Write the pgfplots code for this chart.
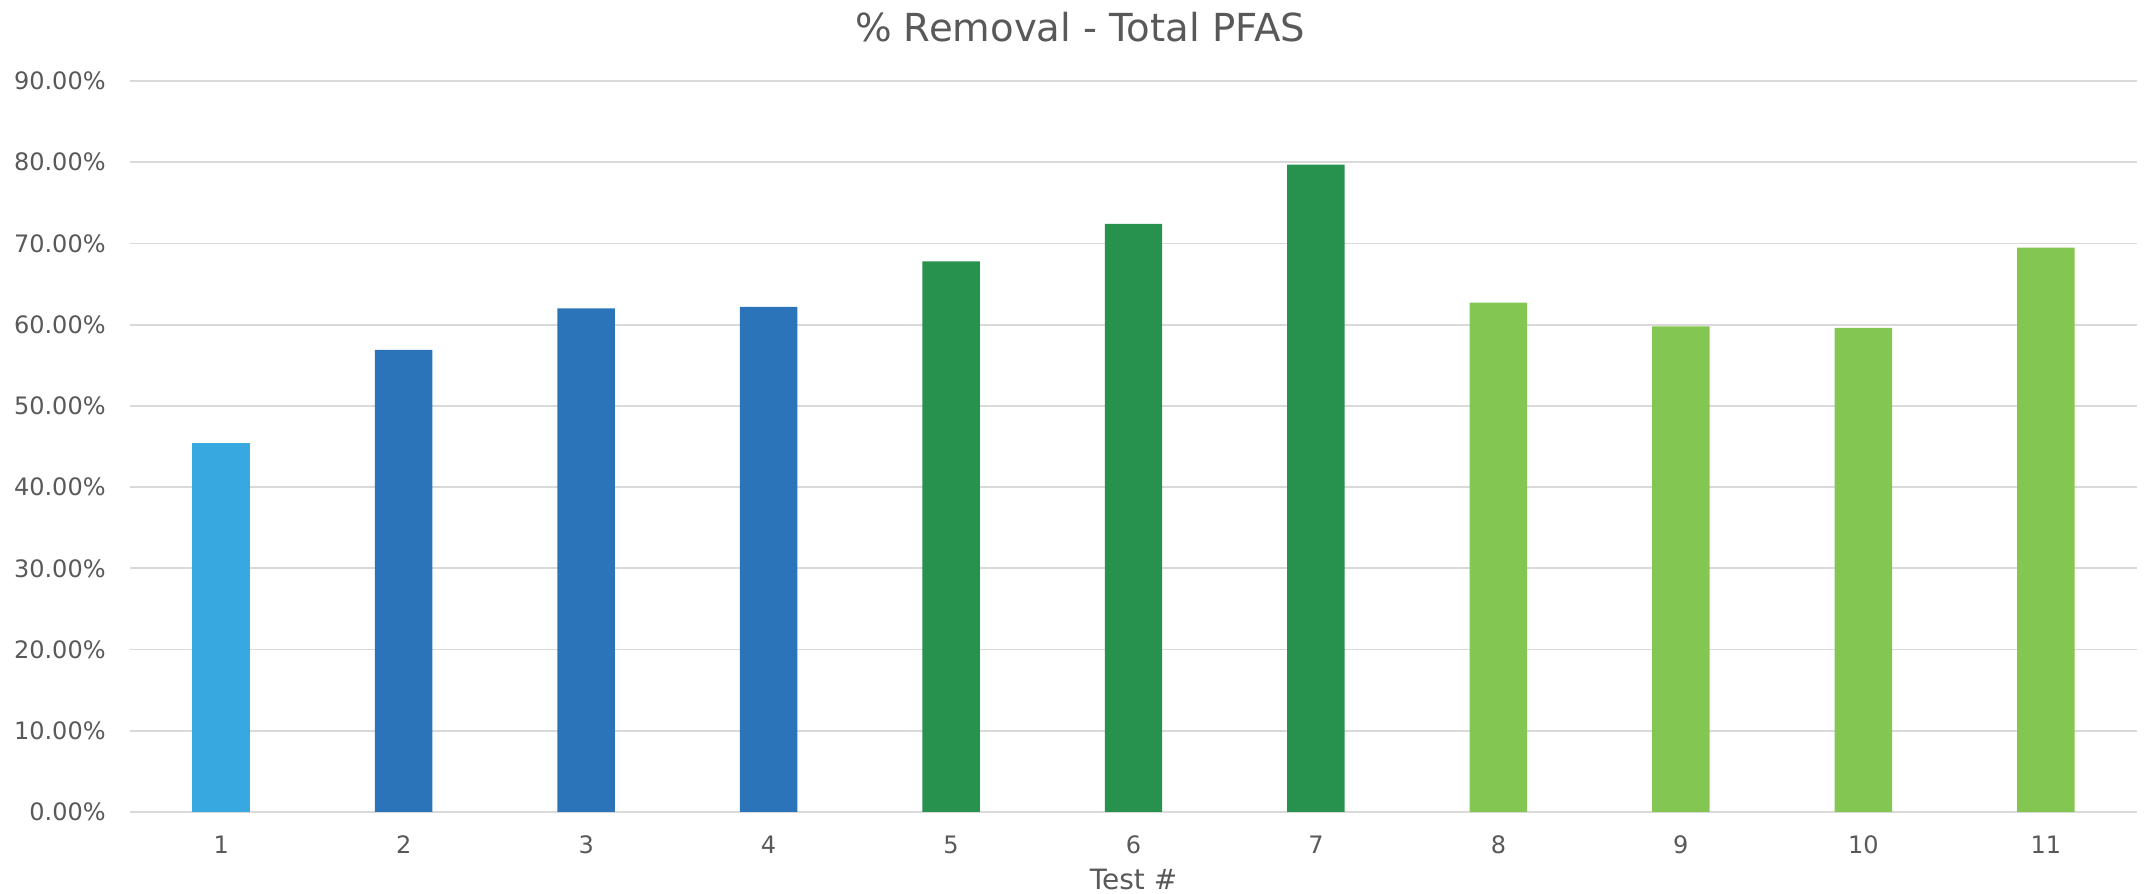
\documentclass[border=0pt]{standalone}
\usepackage{pgfplots}
\pgfplotsset{compat=1.18}
\usepackage{fontspec}
\setmainfont{DejaVu Sans}
\definecolor{txt}{HTML}{595959}
\definecolor{gridc}{HTML}{D9D9D9}
\definecolor{c1}{HTML}{38A8E0}
\definecolor{c2}{HTML}{2C74BA}
\definecolor{c3}{HTML}{26924E}
\definecolor{c4}{HTML}{83C651}
\begin{document}
\begin{tikzpicture}
\begin{axis}[name=ax, scale only axis, width=1003.5pt, height=365.5pt,
  xmin=0.5, xmax=11.5, ymin=0, ymax=90,
  ybar, bar width=0.315,
  axis line style={draw=none}, major tick length=0pt,
  ymajorgrids, grid style={gridc, line width=0.9pt},
  xtick={1,2,3,4,5,6,7,8,9,10,11},
  ytick={0,10,20,30,40,50,60,70,80,90},
  yticklabels={0.00\%,10.00\%,20.00\%,30.00\%,40.00\%,50.00\%,60.00\%,70.00\%,80.00\%,90.00\%},
  xticklabels={1,2,3,4,5,6,7,8,9,10,11},
  tick label style={font=\fontsize{12}{14}\selectfont, text=txt},
  xticklabel style={anchor=center, yshift=-16.5pt},
  yticklabel style={anchor=east, inner sep=0pt, xshift=-12pt},
  title={\% Removal - Total PFAS},
  title style={font=\fontsize{19.3}{23}\selectfont, text=txt, at={(0.5,1)}, anchor=center, yshift=21pt, xshift=-26.75pt},
  xlabel={Test \#},
  xlabel style={font=\fontsize{14}{17}\selectfont, text=txt, at={(0.5,0)}, anchor=center, yshift=-34pt},
]
\addplot[fill=c1, draw=none, bar shift=0pt] coordinates {(1,45.4)};
\addplot[fill=c2, draw=none, bar shift=0pt] coordinates {(2,56.9) (3,62.0) (4,62.2)};
\addplot[fill=c3, draw=none, bar shift=0pt] coordinates {(5,67.8) (6,72.4) (7,79.7)};
\addplot[fill=c4, draw=none, bar shift=0pt] coordinates {(8,62.7) (9,59.8) (10,59.6) (11,69.5)};
\end{axis}
\pgfresetboundingbox
\path ([xshift=-65pt,yshift=-41pt]ax.south west) rectangle ([xshift=5pt,yshift=40.5pt]ax.north east);
\end{tikzpicture}
\end{document}
